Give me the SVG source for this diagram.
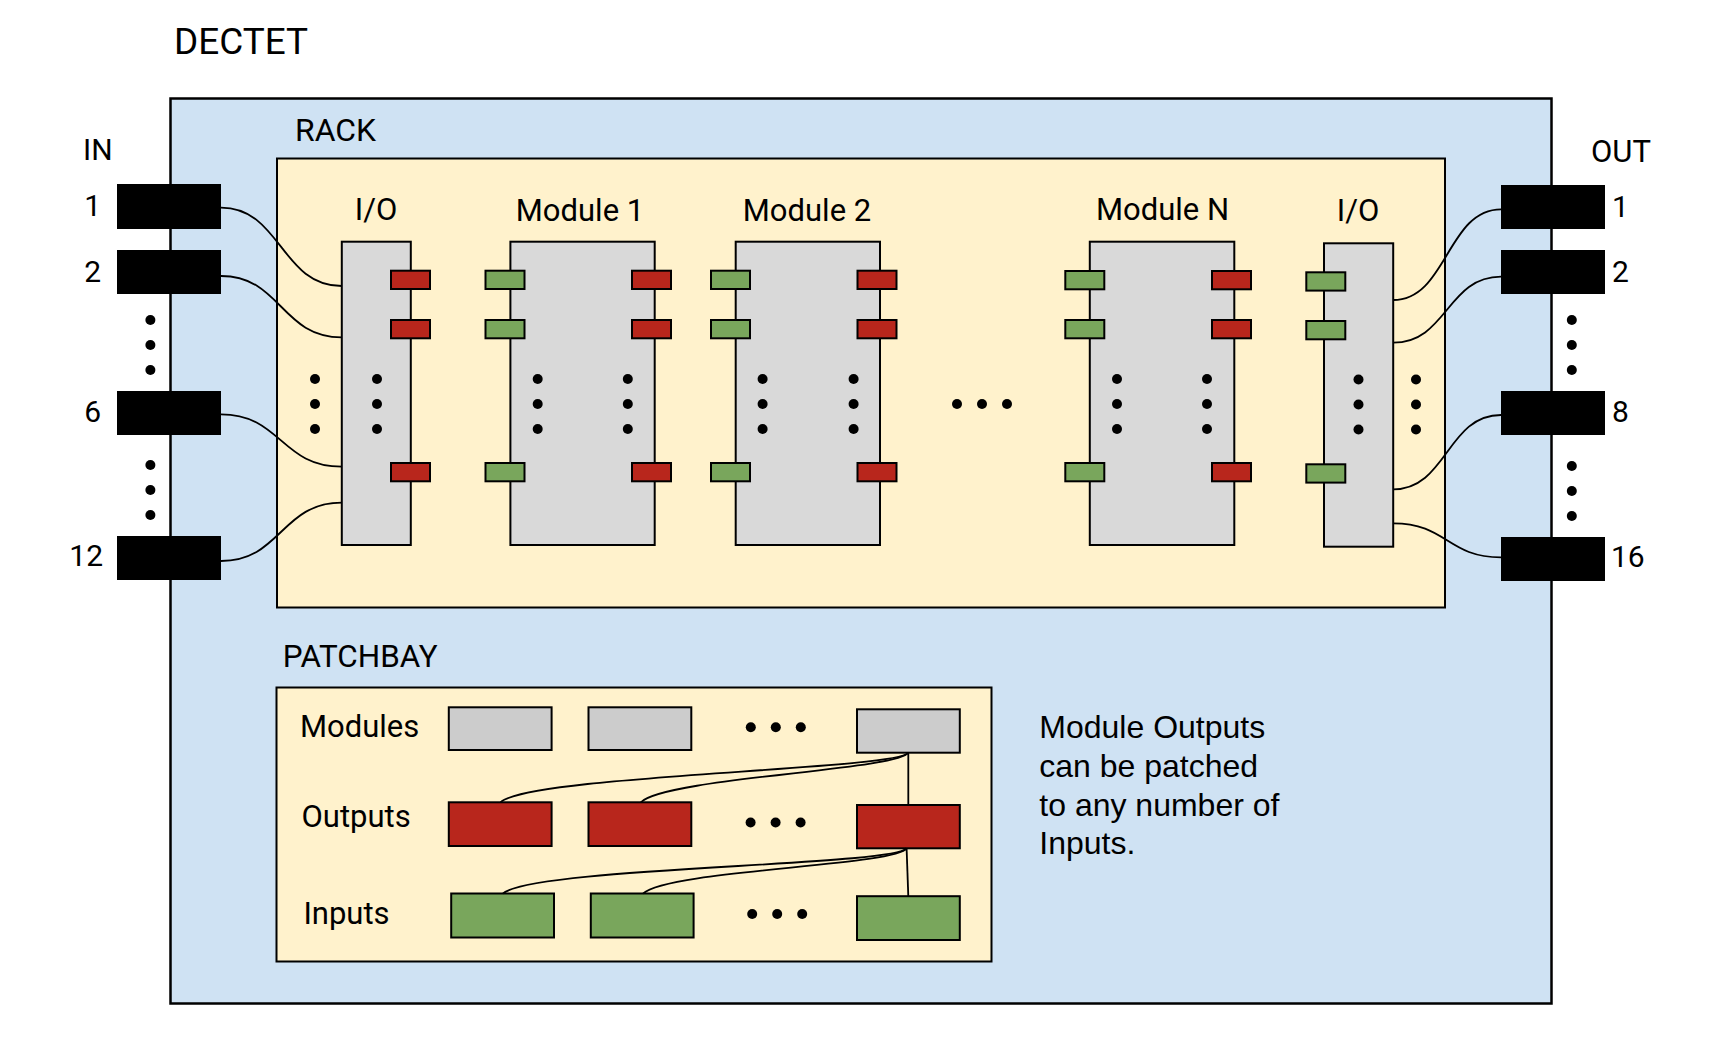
<svg xmlns="http://www.w3.org/2000/svg" width="1736" height="1048" viewBox="0 0 1736 1048">
<style>
text{font-family:Roboto,"Liberation Sans",sans-serif;fill:#000}
.lbl{font-size:31px}
.num{font-size:30px}
.mid{text-anchor:middle}
.end{text-anchor:end}
.cap{font-family:"Liberation Sans",Arial,sans-serif;font-size:32px}
.blue{fill:#cfe2f3;stroke:#000;stroke-width:2.5}
.yel{fill:#fff2cc;stroke:#000;stroke-width:2}
.mod{fill:#d9d9d9;stroke:#000;stroke-width:2}
.pg{fill:#cccccc;stroke:#000;stroke-width:2}
.red{fill:#b8261c;stroke:#000;stroke-width:2}
.grn{fill:#79a65c;stroke:#000;stroke-width:2}
.jack{fill:#000}
.wire{fill:none;stroke:#000;stroke-width:1.8}
.dot{fill:#000}
</style>
<defs>
<circle id="d" r="5" class="dot"/>
<g id="v3"><use href="#d" y="0"/><use href="#d" y="25"/><use href="#d" y="50"/></g>
<g id="h3"><use href="#d" x="0"/><use href="#d" x="25"/><use href="#d" x="50"/></g>
</defs>

<text id="title" x="174" y="54" style="font-size:37px" textLength="134" lengthAdjust="spacingAndGlyphs">DECTET</text>

<g id="dectet"><rect class="blue" x="170.5" y="98.5" width="1381" height="905"/></g>

<g id="rack">
<rect class="yel" x="277" y="158.5" width="1168" height="449"/>
<text class="lbl" x="295" y="141" textLength="81" lengthAdjust="spacingAndGlyphs">RACK</text>
</g>

<g id="in-jacks">
<text class="num" x="83" y="160">IN</text>
<g id="in1"><rect class="jack" x="117" y="184" width="104" height="45"/><text class="num end" x="101" y="216">1</text></g>
<g id="in2"><rect class="jack" x="117" y="250" width="104" height="44"/><text class="num end" x="101" y="282">2</text></g>
<g id="in6"><rect class="jack" x="117" y="391" width="104" height="44"/><text class="num end" x="101" y="422">6</text></g>
<g id="in12"><rect class="jack" x="117" y="536" width="104" height="44"/><text class="num end" x="103" y="566">12</text></g>
<use href="#v3" x="150.4" y="320"/>
<use href="#v3" x="150.4" y="465"/>
</g>

<g id="out-jacks">
<text class="num" x="1591" y="162" style="font-size:31px">OUT</text>
<g id="out1"><rect class="jack" x="1501" y="185" width="104" height="44"/><text class="num" x="1612" y="217">1</text></g>
<g id="out2"><rect class="jack" x="1501" y="250" width="104" height="44"/><text class="num" x="1612" y="282">2</text></g>
<g id="out8"><rect class="jack" x="1501" y="391" width="104" height="44"/><text class="num" x="1612" y="422">8</text></g>
<g id="out16"><rect class="jack" x="1501" y="537" width="104" height="44"/><text class="num" x="1611" y="567">16</text></g>
<use href="#v3" x="1571.8" y="320"/>
<use href="#v3" x="1571.8" y="466"/>
</g>

<g id="io-left">
<text class="lbl mid" x="376" y="220">I/O</text>
<rect class="mod" x="341.8" y="241.7" width="69" height="303.3"/>
<rect class="red" x="391" y="270.7" width="39" height="18.3"/>
<rect class="red" x="391" y="320" width="39" height="18.3"/>
<rect class="red" x="391" y="463" width="39" height="18.3"/>
<use href="#v3" x="315" y="379"/>
<use href="#v3" x="377" y="379"/>
</g>

<g id="module1">
<text class="lbl mid" x="580" y="221">Module 1</text>
<rect class="mod" x="510.4" y="241.7" width="144.3" height="303.3"/>
<rect class="grn" x="485.5" y="270.7" width="39" height="18.3"/>
<rect class="grn" x="485.5" y="320" width="39" height="18.3"/>
<rect class="grn" x="485.5" y="463" width="39" height="18.3"/>
<rect class="red" x="632" y="270.7" width="39" height="18.3"/>
<rect class="red" x="632" y="320" width="39" height="18.3"/>
<rect class="red" x="632" y="463" width="39" height="18.3"/>
<use href="#v3" x="537.7" y="379"/>
<use href="#v3" x="627.8" y="379"/>
</g>

<g id="module2">
<text class="lbl mid" x="807" y="221">Module 2</text>
<rect class="mod" x="735.7" y="241.7" width="144.3" height="303.3"/>
<rect class="grn" x="711" y="270.7" width="39" height="18.3"/>
<rect class="grn" x="711" y="320" width="39" height="18.3"/>
<rect class="grn" x="711" y="463" width="39" height="18.3"/>
<rect class="red" x="857.5" y="270.7" width="39" height="18.3"/>
<rect class="red" x="857.5" y="320" width="39" height="18.3"/>
<rect class="red" x="857.5" y="463" width="39" height="18.3"/>
<use href="#v3" x="762.6" y="379"/>
<use href="#v3" x="853.6" y="379"/>
</g>

<g id="ellipsis-rack"><use href="#h3" x="957" y="404"/></g>

<g id="moduleN">
<text class="lbl mid" x="1162.5" y="220">Module N</text>
<rect class="mod" x="1089.8" y="241.7" width="144.5" height="303.3"/>
<rect class="grn" x="1065.3" y="271" width="39" height="18.3"/>
<rect class="grn" x="1065.3" y="320" width="39" height="18.3"/>
<rect class="grn" x="1065.3" y="463" width="39" height="18.3"/>
<rect class="red" x="1212" y="271" width="39" height="18.3"/>
<rect class="red" x="1212" y="320" width="39" height="18.3"/>
<rect class="red" x="1212" y="463" width="39" height="18.3"/>
<use href="#v3" x="1117" y="379"/>
<use href="#v3" x="1207" y="379"/>
</g>

<g id="io-right">
<text class="lbl mid" x="1358" y="221">I/O</text>
<rect class="mod" x="1324" y="243.3" width="69.2" height="303.4"/>
<rect class="grn" x="1306.3" y="272.3" width="39" height="18.3"/>
<rect class="grn" x="1306.3" y="321" width="39" height="18.3"/>
<rect class="grn" x="1306.3" y="464.3" width="39" height="18.3"/>
<use href="#v3" x="1358.5" y="379.5"/>
<use href="#v3" x="1416" y="379.5"/>
</g>

<g id="patchbay">
<rect class="yel" x="276.5" y="687.5" width="715" height="274"/>
<text x="282.7" y="667" style="font-size:31px" textLength="155" lengthAdjust="spacingAndGlyphs">PATCHBAY</text>
<text class="lbl" x="300" y="737.3">Modules</text>
<text class="lbl" x="301.5" y="826.7">Outputs</text>
<text class="lbl" x="303.4" y="924">Inputs</text>
<rect class="pg" x="448.8" y="707.3" width="102.8" height="42.7"/>
<rect class="pg" x="588.5" y="707.3" width="102.8" height="42.7"/>
<rect class="pg" x="857" y="709.3" width="102.8" height="43.4"/>
<rect class="red" x="448.8" y="802.3" width="102.8" height="43.7"/>
<rect class="red" x="588.5" y="802.3" width="102.8" height="43.7"/>
<rect class="red" x="857" y="805" width="102.8" height="43.3"/>
<rect class="grn" x="451.2" y="893.5" width="102.8" height="44"/>
<rect class="grn" x="590.8" y="893.5" width="102.8" height="44"/>
<rect class="grn" x="857" y="896.2" width="102.8" height="43.8"/>
<use href="#h3" x="750.8" y="727.3"/>
<use href="#h3" x="750.6" y="822.5"/>
<use href="#h3" x="752.2" y="914"/>
</g>

<g id="caption">
<text class="cap" x="1039.3" y="738.3">Module Outputs</text>
<text class="cap" x="1039.3" y="776.7">can be patched</text>
<text class="cap" x="1039.3" y="815.7">to any number of</text>
<text class="cap" x="1039.3" y="854">Inputs.</text>
</g>

<g id="connectors">
<path class="wire" d="M221,207.7 C281,207.7 281,286 341.8,286"/>
<path class="wire" d="M221,276 C281,276 281,337.3 341.8,337.3"/>
<path class="wire" d="M221,414.3 C281,414.3 281,466.7 341.8,466.7"/>
<path class="wire" d="M221,561 C281,561 281,502.7 341.8,502.7"/>
<path class="wire" d="M1393.2,300 C1447,300 1447,209.3 1501,209.3"/>
<path class="wire" d="M1393.2,342.7 C1447,342.7 1447,276.7 1501,276.7"/>
<path class="wire" d="M1393.2,489.3 C1447,489.3 1447,415 1501,415"/>
<path class="wire" d="M1393.2,523.3 C1447,523.3 1447,557.3 1501,557.3"/>
<path class="wire" d="M908.3,752.7 L908.3,805"/>
<path class="wire" d="M908.3,752.7 C895,770 530,775 500.5,802.3"/>
<path class="wire" d="M908.3,752.7 C897,770 665,778 640.8,802.3"/>
<path class="wire" d="M906.6,848.3 L908.3,896.2"/>
<path class="wire" d="M906.6,848.3 C894,866 533,867 503,893.5"/>
<path class="wire" d="M906.6,848.3 C896,866 668,870 643.2,893.5"/>
</g>
</svg>
